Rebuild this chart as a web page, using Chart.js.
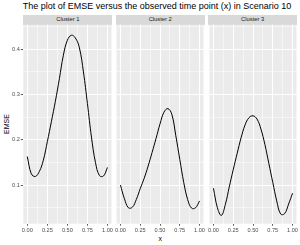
<!DOCTYPE html>
<html><head><meta charset="utf-8">
<script src="https://cdn.jsdelivr.net/npm/chart.js@4.4.1/dist/chart.umd.min.js"></script>
<style>
html,body{margin:0;padding:0;background:#fff;width:300px;height:245px;overflow:hidden;font-family:"Liberation Sans",Arial,sans-serif;}
.abs{position:absolute;white-space:nowrap;line-height:1;}
#title{left:22.7px;top:2px;font-size:9px;color:#000;}
.strip{position:absolute;background:#d9d9d9;top:15.3px;height:9.4px;font-size:5.8px;color:#1a1a1a;display:flex;align-items:center;justify-content:center;line-height:1;}
#xt{left:160.3px;top:234.5px;font-size:7px;color:#000;transform:translateX(-50%);}
#yt{left:6px;top:124.2px;font-size:7px;color:#000;transform:translate(-50%,-50%) rotate(-90deg);}
canvas{position:absolute;top:0;}
</style></head><body>
<div id="title" class="abs">The plot of EMSE versus the observed time point (x) in Scenario 10</div>
<div id="xt" class="abs">x</div>
<div id="yt" class="abs">EMSE</div>
<script>
// ---- data ----
const panelNames = ["Cluster 1", "Cluster 2", "Cluster 3"];
const xs = [0,0.05,0.1,0.15,0.2,0.25,0.3,0.35,0.4,0.45,0.5,0.55,0.6,0.65,0.7,0.75,0.8,0.85,0.9,0.95,1.0];
const emseCluster1 = [0.163,0.125,0.119,0.130,0.155,0.196,0.240,0.285,0.335,0.387,0.420,0.431,0.425,0.403,0.350,0.280,0.206,0.150,0.121,0.120,0.139];
const emseCluster2 = [0.100,0.070,0.050,0.051,0.068,0.092,0.115,0.142,0.172,0.203,0.235,0.261,0.269,0.256,0.209,0.157,0.106,0.068,0.049,0.050,0.065];
const emseCluster3 = [0.093,0.050,0.033,0.057,0.096,0.134,0.170,0.205,0.233,0.249,0.253,0.246,0.224,0.190,0.148,0.106,0.065,0.036,0.037,0.058,0.082];
const xMajorTicks = [0, 0.25, 0.5, 0.75, 1];
const xTickLabels = ["0.00", "0.25", "0.50", "0.75", "1.00"];
const xMinorTicks = [0.125, 0.375, 0.625, 0.875];
const yMajorTicks = [0.1, 0.2, 0.3, 0.4];
const yTickLabels = ["0.1", "0.2", "0.3", "0.4"];
const yMinorTicks = [0.05, 0.15, 0.25, 0.35, 0.45];

// ---- layout ----
const seriesList = [emseCluster1, emseCluster2, emseCluster3];
const panelLeft = [23.3, 115.7, 208.1];
const panelW = 89.1;
const panelTop = 24.7, panelBottom = 223.7, pageH = 245;
const xMin = -0.05, xMax = 1.05, yMin = 0.0147, yMax = 0.4543;

function findIdx(arr, v){ for(let i=0;i<arr.length;i++){ if(Math.abs(arr[i]-v)<1e-6) return i; } return -1; }
function allTicks(a,b){ return a.concat(b).sort((p,q)=>p-q).map(v=>({value:v})); }

const bgPlugin = {
  id:'panelBg',
  beforeDraw(chart){
    const {ctx, chartArea:a} = chart;
    ctx.save(); ctx.fillStyle = '#ebebeb';
    ctx.fillRect(a.left, a.top, a.right-a.left, a.bottom-a.top);
    ctx.restore();
  }
};

seriesList.forEach((series, i) => {
  const pl = panelLeft[i];
  const cx = i === 0 ? 0 : Math.floor(pl) - 1;
  const cw = Math.ceil(pl + panelW) + 1 - cx;
  const strip = document.createElement('div');
  strip.className = 'strip';
  strip.style.left = pl + 'px';
  strip.style.width = panelW + 'px';
  strip.textContent = panelNames[i];
  document.body.appendChild(strip);

  const cv = document.createElement('canvas');
  cv.width = cw; cv.height = pageH;
  cv.style.left = cx + 'px';
  cv.style.width = cw + 'px'; cv.style.height = pageH + 'px';
  document.body.appendChild(cv);

  const yAxisW = pl - cx;
  const padRight = (cx + cw) - (pl + panelW);

  new Chart(cv, {
    type: 'line',
    data: { datasets: [{
      data: xs.map((x, k) => ({x: x, y: series[k]})),
      borderColor: '#000', borderWidth: 1.0, pointRadius: 0, tension: 0.4, fill: false
    }]},
    options: {
      responsive: false, animation: false, devicePixelRatio: 1,
      layout: { padding: { left: 0, top: panelTop, right: padRight, bottom: 0 } },
      plugins: { legend: {display:false}, tooltip: {enabled:false}, title:{display:false} },
      scales: {
        x: {
          type: 'linear', min: xMin, max: xMax,
          afterBuildTicks: s => { s.ticks = allTicks(xMajorTicks, xMinorTicks); },
          afterFit: s => { s.height = pageH - panelBottom; },
          border: { display: false },
          grid: {
            color: '#ffffff',
            lineWidth: c => findIdx(xMajorTicks, c.tick.value) >= 0 ? 1 : 0.5,
            drawTicks: true, tickLength: 2,
            tickColor: c => findIdx(xMajorTicks, c.tick.value) >= 0 ? '#333333' : 'rgba(0,0,0,0)',
            tickWidth: 0.8
          },
          ticks: {
            autoSkip: false, maxRotation: 0, padding: 1,
            color: '#4d4d4d', font: { family: 'Liberation Sans', size: 5.6 },
            callback: v => { const k = findIdx(xMajorTicks, v); return k >= 0 ? xTickLabels[k] : ''; }
          }
        },
        y: {
          type: 'linear', min: yMin, max: yMax,
          afterBuildTicks: s => { s.ticks = allTicks(yMajorTicks, yMinorTicks); },
          afterFit: s => { s.width = yAxisW; },
          border: { display: false },
          grid: {
            color: '#ffffff',
            lineWidth: c => findIdx(yMajorTicks, c.tick.value) >= 0 ? 1 : 0.5,
            drawTicks: i === 0, tickLength: 2.5,
            tickColor: c => findIdx(yMajorTicks, c.tick.value) >= 0 ? '#333333' : 'rgba(0,0,0,0)',
            tickWidth: 0.8
          },
          ticks: {
            display: i === 0, autoSkip: false, padding: 1,
            color: '#4d4d4d', font: { family: 'Liberation Sans', size: 5.6 },
            callback: v => { const k = findIdx(yMajorTicks, v); return k >= 0 ? yTickLabels[k] : ''; }
          }
        }
      }
    },
    plugins: [bgPlugin]
  });
});
</script>
</body></html>
